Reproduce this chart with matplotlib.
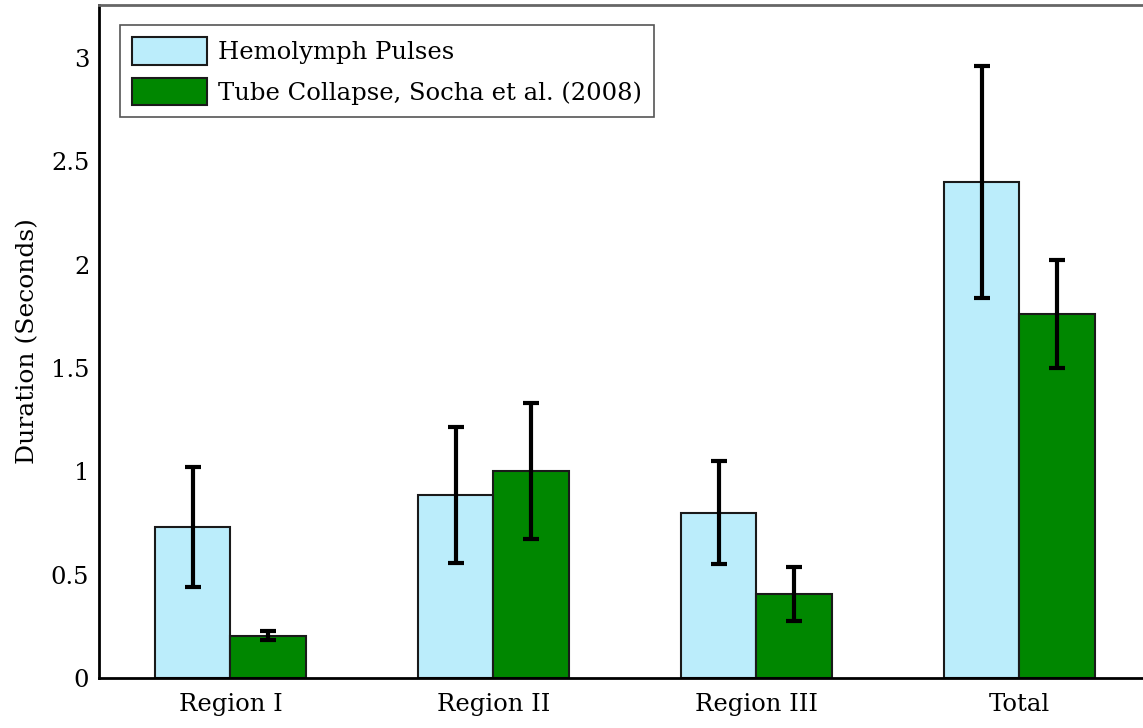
import numpy as np
import matplotlib
matplotlib.use("Agg")
import matplotlib.pyplot as plt

categories = ["Region I", "Region II", "Region III", "Total"]
hemolymph = [0.73, 0.885, 0.80, 2.40]
hemolymph_err = [0.29, 0.33, 0.25, 0.56]
collapse = [0.205, 1.0, 0.405, 1.76]
collapse_err = [0.02, 0.33, 0.13, 0.26]
yticks = [0, 0.5, 1, 1.5, 2, 2.5, 3]
ytick_labels = ["0", "0.5", "1", "1.5", "2", "2.5", "3"]

plt.rcParams["font.family"] = ["DejaVu Serif"]

fig = plt.figure(figsize=(11.43, 7.28), dpi=100)
ax = fig.add_axes([0.0866, 0.0687, 0.9134, 0.9245])

x = np.arange(1, len(categories) + 1)
w = 0.2875
err_kw = dict(ecolor="black", elinewidth=3, capsize=6, capthick=3)
ax.bar(x - w / 2, hemolymph, w, yerr=hemolymph_err, color="#bbedfb",
       edgecolor="#1a1a1a", linewidth=1.5, error_kw=err_kw,
       label="Hemolymph Pulses")
ax.bar(x + w / 2, collapse, w, yerr=collapse_err, color="#008700",
       edgecolor="#1a1a1a", linewidth=1.5, error_kw=err_kw,
       label="Tube Collapse, Socha et al. (2008)")

ax.set_xlim(0.5, 4.47)
ax.set_ylim(0, 3.256)
ax.set_xticks(x)
ax.set_xticklabels(categories, fontsize=17.5)
ax.set_yticks(yticks)
ax.set_yticklabels(ytick_labels, fontsize=17.5)
ax.tick_params(axis="y", length=0, pad=7)
ax.tick_params(axis="x", length=0, pad=11)
ax.set_ylabel("Duration (Seconds)", fontsize=18, labelpad=8)

for side in ["left", "bottom"]:
    ax.spines[side].set_color("black")
    ax.spines[side].set_linewidth(2)
ax.spines["top"].set_color("#666666")
ax.spines["top"].set_linewidth(2)
ax.spines["right"].set_visible(False)

leg = ax.legend(loc="upper left", bbox_to_anchor=(0.02, 0.97), fontsize=17.5,
                fancybox=False, edgecolor="#555555", framealpha=1,
                handlelength=3.1, handleheight=1.35, borderpad=0.5,
                labelspacing=0.55, handletextpad=0.45, borderaxespad=0)
leg.get_frame().set_linewidth(1.2)

fig.savefig("out.png", dpi=100)
